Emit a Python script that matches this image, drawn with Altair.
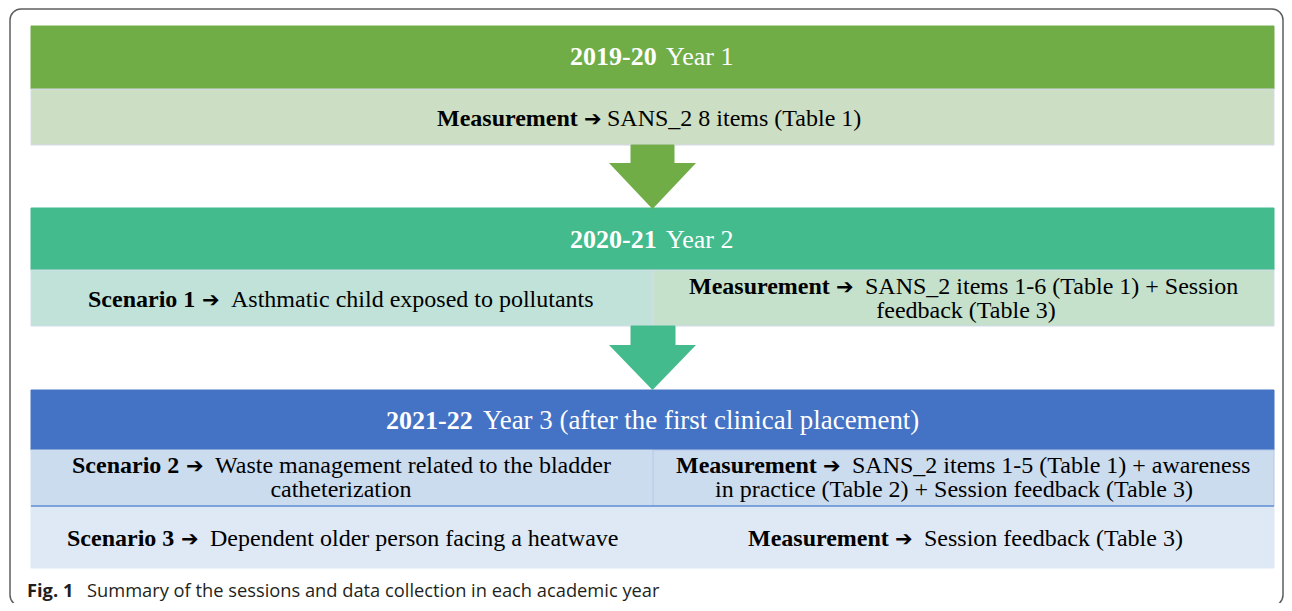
import altair as alt
import pandas as pd

# ---------------- content ----------------
header_bold = ["2019-20", "2020-21", "2021-22"]
header_reg = ["Year 1", "Year 2", "Year 3 (after the first clinical placement)"]

row_bold = ["Measurement", "Scenario 1", "Measurement", "Scenario 2", "Measurement", "Scenario 3", "Measurement"]
row_reg = [
    "SANS_2 8 items (Table 1)",
    "Asthmatic child exposed to pollutants",
    "SANS_2 items 1-6 (Table 1) + Session",
    "Waste management related to the bladder",
    "SANS_2 items 1-5 (Table 1) + awareness",
    "Dependent older person facing a heatwave",
    "Session feedback (Table 3)",
]
row_cont = ["feedback (Table 3)", "catheterization", "in practice (Table 2) + Session feedback (Table 3)"]
arrow_glyph = "➔"

caption_bold = "Fig. 1"
caption_reg = "Summary of the sessions and data collection in each academic year"

# ---------------- layout ----------------
# header lines: bold start x, regular start x, baseline, regular font size
header_pos = [(570, 666, 65, 26), (570, 666, 248, 26), (386, 483, 429, 26.9)]
# row first lines: bold start, arrow start, regular start, baseline
row_pos = [(437, 584, 607, 126), (88, 202, 231, 307), (689, 836, 865, 294),
           (72, 186, 215, 473), (676, 823, 852, 473), (67, 181, 210, 546), (748, 895, 924, 546)]
# continuation lines: centre x, baseline
cont_pos = [(966, 318), (341, 497), (954, 497)]

boxes = pd.DataFrame([
    dict(x=31, x2=1274, y=26, y2=89, fill="#70AD47", stroke="#70AD47"),
    dict(x=31, x2=1274, y=89, y2=145, fill="#CCDEC3", stroke="#D6DAEC"),
    dict(x=31, x2=1274, y=208, y2=270, fill="#43BB8C", stroke="#43BB8C"),
    dict(x=31, x2=653, y=270, y2=326, fill="#C1E2D9", stroke="#D2DCEA"),
    dict(x=653, x2=1274, y=270, y2=326, fill="#C5E0CB", stroke="#D2DCEA"),
    dict(x=31, x2=1274, y=390, y2=450, fill="#4472C4", stroke="#4472C4"),
    dict(x=31, x2=653, y=450, y2=506, fill="#CCDCEF", stroke="#CCDCEF"),
    dict(x=653, x2=1274, y=450, y2=506, fill="#CCDCEF", stroke="#B4C7E7"),
    dict(x=31, x2=1274, y=506, y2=568, fill="#DEE9F5", stroke="#DEE9F5"),
    dict(x=631, x2=674, y=145, y2=164, fill="#70AD47", stroke="#70AD47"),
    dict(x=631, x2=675, y=326, y2=346, fill="#43BB8C", stroke="#43BB8C"),
])

heads = pd.DataFrame([
    dict(arrow="a1", x=609, y=163, y2=163, fill="#70AD47"),
    dict(arrow="a1", x=652.5, y=163, y2=209, fill="#70AD47"),
    dict(arrow="a1", x=696, y=163, y2=163, fill="#70AD47"),
    dict(arrow="a2", x=609, y=345, y2=345, fill="#43BB8C"),
    dict(arrow="a2", x=652.5, y=345, y2=390, fill="#43BB8C"),
    dict(arrow="a2", x=696, y=345, y2=345, fill="#43BB8C"),
])

xs = alt.Scale(domain=[8, 1284], nice=False, zero=False)
ys = alt.Scale(domain=[8, 603], nice=False, zero=False, reverse=True)


def X(f="x"):
    return alt.X(f"{f}:Q", scale=xs, axis=None)


def Y(f="y"):
    return alt.Y(f"{f}:Q", scale=ys, axis=None)


frame = alt.Chart(pd.DataFrame([dict(x=10, x2=1283, y=9, y2=606)])).mark_rect(
    fill=None, stroke="#5f5f5f", strokeWidth=1.5, cornerRadius=11
).encode(x=X(), x2="x2:Q", y=Y(), y2="y2:Q")

rects = alt.Chart(boxes).mark_rect(strokeWidth=1).encode(
    x=X(), x2="x2:Q", y=Y(), y2="y2:Q",
    fill=alt.Fill("fill:N", scale=None),
    stroke=alt.Stroke("stroke:N", scale=None),
)

sep = alt.Chart(pd.DataFrame([dict(x=31, x2=1274, y=506)])).mark_rule(
    color="#5B8BD2", strokeWidth=1.5
).encode(x=X(), x2="x2:Q", y=Y())

head_area = alt.Chart(heads).mark_area().encode(
    x=X(), y=Y(), y2="y2:Q",
    detail="arrow:N",
    fill=alt.Fill("fill:N", scale=None),
)

hb = pd.DataFrame([dict(t=t, x=p[0], y=p[2]) for t, p in zip(header_bold, header_pos)])
hr = pd.DataFrame([dict(t=t, x=p[1], y=p[2], s=p[3]) for t, p in zip(header_reg, header_pos)])
rb = pd.DataFrame([dict(t=t, x=p[0], y=p[3]) for t, p in zip(row_bold, row_pos)])
ra = pd.DataFrame([dict(t=arrow_glyph, x=p[1], y=p[3]) for p in row_pos])
rr = pd.DataFrame([dict(t=t, x=p[2], y=p[3]) for t, p in zip(row_reg, row_pos)])
rc = pd.DataFrame([dict(t=t, x=p[0], y=p[1]) for t, p in zip(row_cont, cont_pos)])
cb = pd.DataFrame([dict(t=caption_bold, x=27, y=597)])
cr = pd.DataFrame([dict(t=caption_reg, x=87, y=597)])

SERIF = "Liberation Serif"


def txt(df, size=None, **kw):
    base = dict(baseline="alphabetic", align="left")
    base.update(kw)
    enc = dict(x=X(), y=Y(), text="t:N")
    if size:
        enc["size"] = alt.Size("s:Q", scale=None)
    return alt.Chart(df).mark_text(**base).encode(**enc)


layers = [
    frame, rects, sep, head_area,
    txt(hb, font=SERIF, fontSize=26, fontWeight="bold", color="white"),
    txt(hr, size=True, font=SERIF, color="white"),
    txt(rb, font=SERIF, fontSize=24, fontWeight="bold", color="black"),
    txt(ra, font="DejaVu Sans", fontSize=21, fontWeight="bold", color="black"),
    txt(rr, font=SERIF, fontSize=24, color="black"),
    txt(rc, font=SERIF, fontSize=24, color="black", align="center"),
    txt(cb, font="Open Sans", fontSize=18.3, fontWeight="bold", color="#231F20"),
    txt(cr, font="Open Sans", fontSize=18.3, color="#231F20"),
]

chart = alt.layer(*layers).properties(
    width=1276, height=595, autosize=alt.AutoSizeParams(type="none"), padding=0
).configure_view(stroke=None)

chart.save("out.html", embed_options={"renderer": "svg", "actions": False})
